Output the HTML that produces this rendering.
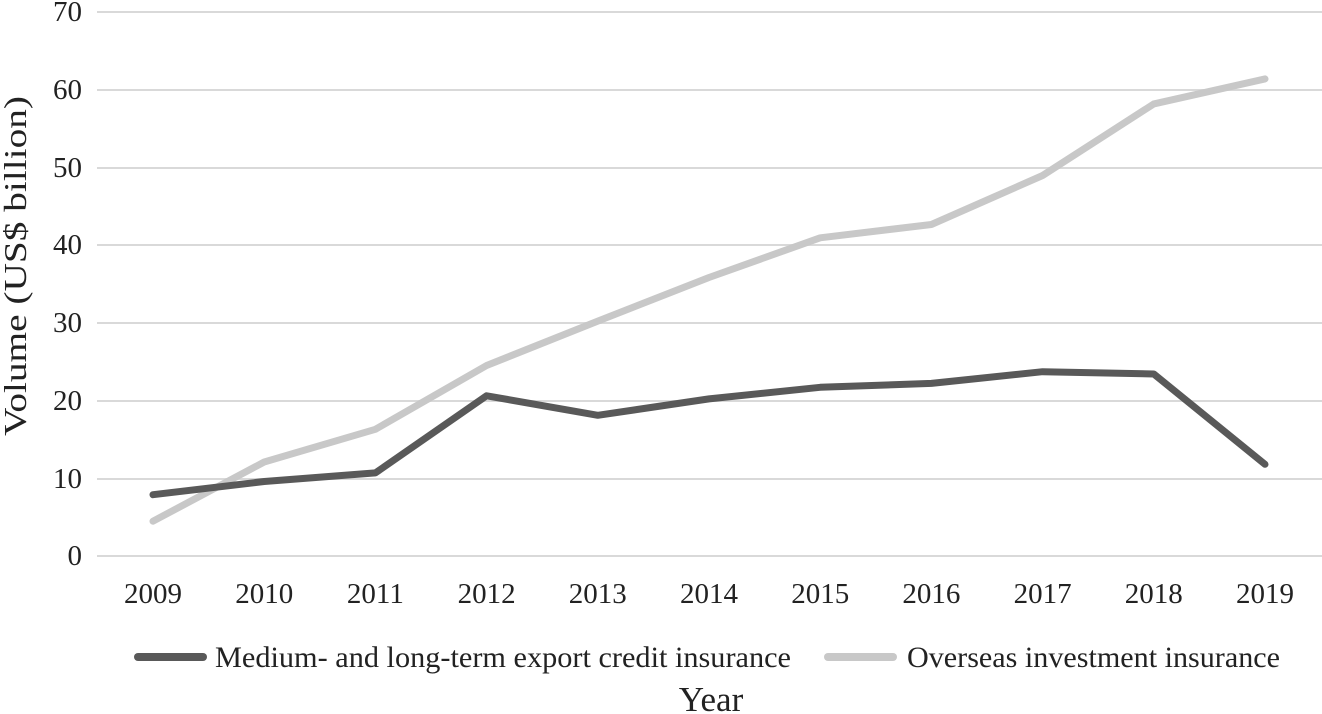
<!DOCTYPE html>
<html><head><meta charset="utf-8"><style>
html,body{margin:0;padding:0;background:#fff;}
svg{display:block;font-family:"Liberation Serif",serif;}
</style></head><body>
<svg width="1322" height="714" viewBox="0 0 1322 714" xmlns="http://www.w3.org/2000/svg">
<g stroke="#d9d9d9" stroke-width="2">
<line x1="97" x2="1322" y1="12" y2="12"/>
<line x1="97" x2="1322" y1="90" y2="90"/>
<line x1="97" x2="1322" y1="168" y2="168"/>
<line x1="97" x2="1322" y1="245" y2="245"/>
<line x1="97" x2="1322" y1="323" y2="323"/>
<line x1="97" x2="1322" y1="401" y2="401"/>
<line x1="97" x2="1322" y1="479" y2="479"/>
<line x1="97" x2="1322" y1="556" y2="556"/>
</g>
<g font-size="29" fill="#222" text-anchor="end">
<text x="82" y="21">70</text>
<text x="82" y="99">60</text>
<text x="82" y="177">50</text>
<text x="82" y="254">40</text>
<text x="82" y="332">30</text>
<text x="82" y="410">20</text>
<text x="82" y="488">10</text>
<text x="82" y="565">0</text>
</g>
<g font-size="29" fill="#222" text-anchor="middle">
<text x="153" y="603">2009</text>
<text x="264.2" y="603">2010</text>
<text x="375.4" y="603">2011</text>
<text x="486.6" y="603">2012</text>
<text x="597.8" y="603">2013</text>
<text x="709" y="603">2014</text>
<text x="820.2" y="603">2015</text>
<text x="931.4" y="603">2016</text>
<text x="1042.6" y="603">2017</text>
<text x="1153.8" y="603">2018</text>
<text x="1265" y="603">2019</text>
</g>
<text transform="translate(26,266) rotate(-90)" font-size="32" fill="#222" text-anchor="middle" textLength="340" lengthAdjust="spacingAndGlyphs">Volume (US$ billion)</text>
<polyline fill="none" stroke="#c8c8c8" stroke-width="7" stroke-linejoin="round" stroke-linecap="round" points="153,521.2 264.2,462 375.4,429.3 486.6,365.5 597.8,321.1 709,277.5 820.2,237.8 931.4,224.5 1042.6,175.5 1153.8,103.9 1265,78.9"/>
<polyline fill="none" stroke="#595959" stroke-width="7" stroke-linejoin="round" stroke-linecap="round" points="153,494.7 264.2,481.5 375.4,472.9 486.6,395.8 597.8,415.3 709,398.9 820.2,387.3 931.4,383.4 1042.6,371.7 1153.8,374 1265,464.3"/>
<line x1="138" x2="203" y1="657" y2="657" stroke="#595959" stroke-width="8" stroke-linecap="round"/>
<text x="215" y="667" font-size="30" fill="#222" textLength="576" lengthAdjust="spacingAndGlyphs">Medium- and long-term export credit insurance</text>
<line x1="828" x2="893" y1="657" y2="657" stroke="#c8c8c8" stroke-width="8" stroke-linecap="round"/>
<text x="907" y="667" font-size="30" fill="#222" textLength="373" lengthAdjust="spacingAndGlyphs">Overseas investment insurance</text>
<text x="711" y="711" font-size="35" fill="#222" text-anchor="middle">Year</text>
</svg>
</body></html>
